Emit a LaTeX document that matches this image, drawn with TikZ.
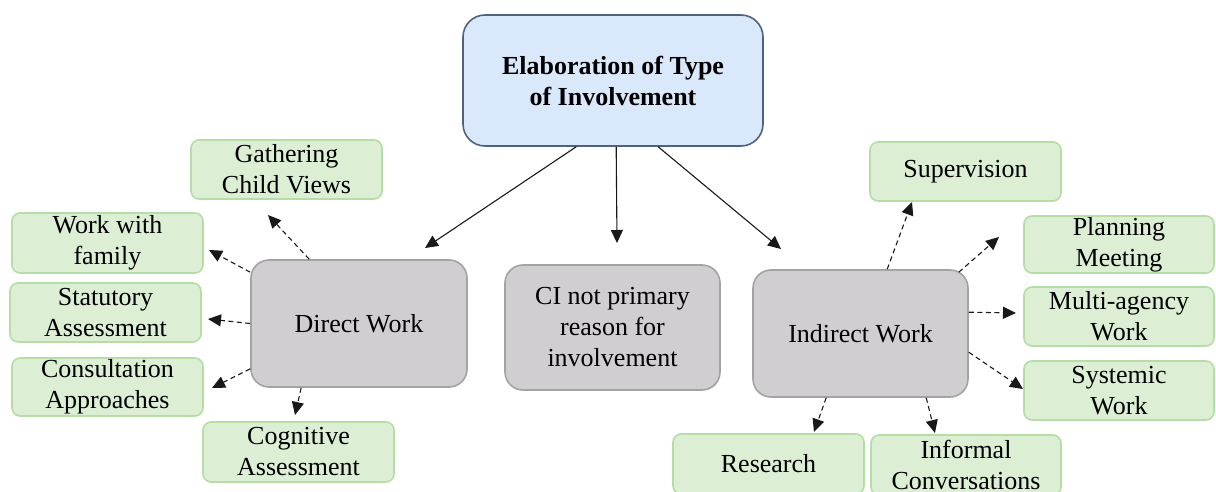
\documentclass[tikz,border=0pt]{standalone}
\usepackage{fontspec}
\setmainfont{Liberation Serif}
\usetikzlibrary{arrows.meta}

\definecolor{topfill}{HTML}{DAE8FC}
\definecolor{topline}{HTML}{50627E}
\definecolor{greyfill}{HTML}{D0CED1}
\definecolor{greyline}{HTML}{A3A3A3}
\definecolor{leaffill}{HTML}{DCEFD5}
\definecolor{leafline}{HTML}{B5DEA6}

\begin{document}
\begin{tikzpicture}[x=1pt,y=-1pt,
  box/.style={rectangle, inner sep=0pt, align=center,
    font=\fontsize{26}{31}\selectfont, line width=1.6pt},
  topbox/.style={box, draw=topline, fill=topfill, rounded corners=22pt,
    font=\fontsize{26}{31}\selectfont\bfseries},
  workbox/.style={box, draw=greyline, fill=greyfill, rounded corners=18pt},
  leafbox/.style={box, draw=leafline, fill=leaffill, rounded corners=8pt},
  solidarrow/.style={draw=black!90, line width=1.1pt,
    -{Triangle[length=13pt,width=12pt]}},
  dasharrow/.style={solidarrow, dash pattern=on 5pt off 3.5pt}]

\useasboundingbox (0,0) rectangle (1216,492);

% central heading
\node[topbox, minimum width=300pt, minimum height=131pt] (ti) at (613,80.5)
  {Elaboration of Type\\of Involvement};

% the three kinds of work
\node[workbox, minimum width=216pt, minimum height=127pt] (dw) at (359,323.5) {Direct Work};
\node[workbox, minimum width=215pt, minimum height=125pt] (ci) at (612.5,327.5)
  {CI not primary\\reason for\\involvement};
\node[workbox, minimum width=215pt, minimum height=127pt] (iw) at (860.5,333.5) {Indirect Work};

% direct work activities
\node[leafbox, minimum width=191pt, minimum height=59pt] (gcv) at (286.5,169.5) {Gathering\\Child Views};
\node[leafbox, minimum width=191pt, minimum height=60pt] (wwf) at (107.5,243) {Work with\\family};
\node[leafbox, minimum width=191pt, minimum height=59pt] (sta) at (105.5,312.5) {Statutory\\Assessment};
\node[leafbox, minimum width=191pt, minimum height=58pt] (con) at (107.5,387) {Consultation\\Approaches};
\node[leafbox, minimum width=191pt, minimum height=60pt] (cog) at (298.5,452) {Cognitive\\Assessment};

% indirect work activities
\node[leafbox, minimum width=191pt, minimum height=59pt] (sup) at (965.5,171.5) {Supervision};
\node[leafbox, minimum width=190pt, minimum height=57pt] (pla) at (1119,244.5) {Planning\\Meeting};
\node[leafbox, minimum width=190pt, minimum height=59pt] (mul) at (1119,316.5) {Multi-agency\\Work};
\node[leafbox, minimum width=190pt, minimum height=59pt] (sys) at (1119,390.5) {Systemic\\Work};
\node[leafbox, minimum width=191pt, minimum height=60pt] (res) at (768.5,464) {Research};
\node[leafbox, minimum width=190pt, minimum height=60pt] (inf) at (966,465) {Informal\\Conversations};

% arrow ends, stopping short of the boxes
\coordinate (e-dw)  at (425,248);
\coordinate (e-ci)  at (617,243);
\coordinate (e-iw)  at (781,249);
\coordinate (e-gcv) at (268,215);
\coordinate (e-wwf) at (209,250);
\coordinate (e-sta) at (208,319);
\coordinate (e-con) at (212,388);
\coordinate (e-cog) at (295,415);
\coordinate (e-sup) at (912,202);
\coordinate (e-pla) at (999,237);
\coordinate (e-mul) at (1016,313);
\coordinate (e-sys) at (1023,389);
\coordinate (e-res) at (814,432);
\coordinate (e-inf) at (935,433);

% heading to the kinds of work
\draw[solidarrow] ([xshift=114pt]ti.south west) -- (e-dw);
\draw[solidarrow] ([xshift=154pt]ti.south west) -- (e-ci);
\draw[solidarrow] ([xshift=196pt]ti.south west) -- (e-iw);

% direct work branches
\draw[dasharrow] ([xshift=59pt]dw.north west) -- (e-gcv);
\draw[dasharrow] ([yshift=-13pt]dw.north west) -- (e-wwf);
\draw[dasharrow] (dw.west) -- (e-sta);
\draw[dasharrow] ([yshift=19pt]dw.south west) -- (e-con);
\draw[dasharrow] ([xshift=51pt]dw.south west) -- (e-cog);

% indirect work branches
\draw[dasharrow] ([xshift=135pt]iw.north west) -- (e-sup);
\draw[dasharrow] ([xshift=-10pt,yshift=-3pt]iw.north east) -- (e-pla);
\draw[dasharrow] ([yshift=-43pt]iw.north east) -- (e-mul);
\draw[dasharrow] ([yshift=-83pt]iw.north east) -- (e-sys);
\draw[dasharrow] ([xshift=74pt]iw.south west) -- (e-res);
\draw[dasharrow] ([xshift=174pt]iw.south west) -- (e-inf);
\end{tikzpicture}
\end{document}
